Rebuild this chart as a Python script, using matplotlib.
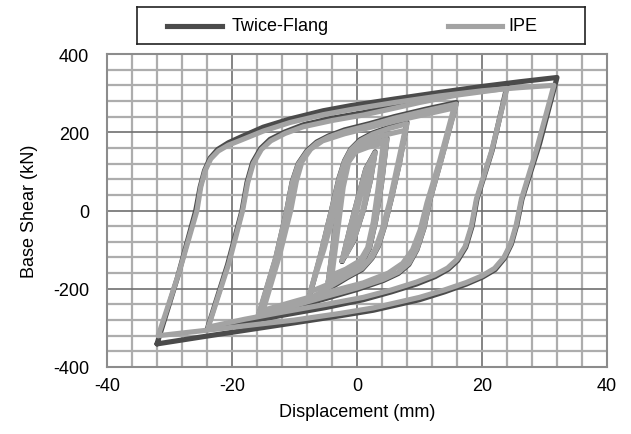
import matplotlib
matplotlib.use("Agg")
import matplotlib.pyplot as plt
from matplotlib.lines import Line2D

plt.rcParams['font.family'] = ['Liberation Sans', 'DejaVu Sans']
plt.rcParams['axes.unicode_minus'] = False

# ---- data: (displacement mm, base shear kN) per loop ----
# IPE loops, smallest to largest
ipe_2a = [(-1.8, -115), (-0.6, -40), (0.6, 40), (1.6, 98), (2.6, 138),
          (1.9, 72), (0.9, 0), (-0.4, -70), (-1.8, -115)]
ipe_2b = [(-2.4, -128), (-1.2, -50), (0.2, 35), (1.4, 105), (2.9, 148),
          (2.2, 80), (1.1, 5), (-0.6, -78), (-2.4, -128)]
ipe_4a = [(-4.0, -165), (-3.0, -40), (-2.2, 60), (-1.3, 125), (-0.2, 150), (1.8, 162), (4.2, 172),
          (3.4, 60), (2.6, -30), (1.7, -95), (0.5, -128), (-1.8, -150), (-4.0, -165)]
ipe_4b = [(-4.6, -180), (-3.5, -50), (-2.6, 55), (-1.7, 125), (-0.4, 156), (2.0, 170), (4.8, 182),
          (3.9, 65), (3.0, -25), (2.0, -95), (0.7, -133), (-2.0, -160), (-4.6, -180)]
ipe_8a = [(-7.5, -208), (-5.3, -100), (-3.6, 0), (-2.4, 80), (-1.6, 122), (-0.6, 150), (0.8, 170),
          (2.8, 185), (5.0, 195), (7.7, 205),
          (6.4, 110), (5.2, 20), (4.0, -50), (3.0, -95), (2.0, -125), (0.5, -148), (-2.0, -170),
          (-4.5, -188), (-7.5, -208)]
ipe_8b = [(-7.8, -228), (-5.8, -110), (-4.1, 0), (-2.9, 80), (-2.0, 125), (-1.0, 155), (0.5, 178),
          (2.5, 195), (5.0, 209), (8.0, 222),
          (6.8, 120), (5.5, 30), (4.3, -45), (3.4, -90), (2.4, -120), (0.8, -148), (-1.5, -168),
          (-4.5, -196), (-7.8, -228)]
ipe_16a = [(-15.0, -255), (-12.4, -115), (-10.6, 0), (-9.7, 75), (-8.8, 125), (-7.4, 157), (-5.5, 178),
           (-2.0, 196), (2.0, 212), (6.0, 228), (11.0, 246), (15.5, 262),
           (13.2, 125), (11.2, 20), (10.1, -50), (8.9, -100), (7.3, -135), (5.0, -160), (1.0, -185),
           (-4.0, -206), (-9.5, -230), (-15.0, -255)]
ipe_16b = [(-15.8, -268), (-13.0, -120), (-11.25, 0), (-10.4, 70), (-9.4, 118), (-8.0, 150), (-6.45, 172),
           (-4.5, 188), (-2.0, 202), (2.0, 218), (6.0, 236), (11.0, 255), (15.9, 272),
           (13.5, 130), (11.7, 29), (10.7, -45), (9.6, -98), (8.3, -135), (6.6, -158), (4.2, -176),
           (0.0, -198), (-5.0, -220), (-10.0, -243), (-15.8, -268)]
ipe_24 = [(-23.8, -298), (-20.5, -135), (-18.3, 0), (-17.5, 70), (-16.6, 120), (-15.3, 156),
          (-13.8, 178), (-11.5, 197), (-8.6, 214), (-4.0, 230), (1.0, 244), (5.0, 258), (10.0, 276),
          (16.0, 295), (24.0, 312),
          (21.5, 150), (19.1, 29), (18.3, -40), (17.3, -92), (16.0, -125), (14.5, -147), (12.4, -165),
          (9.5, -183), (5.5, -203), (1.0, -222), (-5.0, -240), (-12.0, -260), (-18.0, -278),
          (-23.8, -298)]
ipe_32 = [(-31.8, -320), (-28.5, -160), (-25.6, 0), (-25.0, 60), (-24.3, 102), (-23.4, 132),
          (-22.2, 152), (-20.6, 167), (-18.7, 179), (-15.0, 203), (-10.7, 225), (-5.4, 245),
          (-1.0, 258), (6.0, 276), (13.3, 293), (20.0, 306), (26.0, 314), (31.5, 320),
          (28.8, 160), (26.3, 29), (25.5, -35), (24.6, -85), (23.5, -120), (22.0, -148), (20.0, -167),
          (17.5, -184), (14.0, -203), (10.0, -222), (2.6, -249), (-2.7, -263), (-10.0, -280),
          (-17.0, -293), (-24.0, -306), (-31.8, -320)]

# Twice-Flang loops
tf_2 = [(-2.4, -130), (-1.2, -51), (0.2, 35), (1.4, 106), (2.9, 150),
        (2.2, 81), (1.1, 5), (-0.6, -80), (-2.4, -130)]
tf_4 = [(-4.6, -183), (-3.5, -52), (-2.6, 55), (-1.7, 127), (-0.4, 158), (2.0, 172), (4.8, 185),
        (3.9, 66), (3.0, -25), (2.0, -97), (0.7, -135), (-2.0, -163), (-4.6, -183)]
tf_8 = [(-7.8, -232), (-5.8, -112), (-4.1, 0), (-2.9, 82), (-2.0, 127), (-1.0, 157), (0.5, 181),
        (2.5, 198), (5.0, 212), (8.0, 226),
        (6.8, 122), (5.5, 30), (4.3, -46), (3.4, -92), (2.4, -122), (0.8, -151), (-1.5, -171),
        (-4.5, -200), (-7.8, -232)]
tf_16 = [(-15.8, -272), (-13.0, -122), (-11.25, 0), (-10.4, 72), (-9.4, 120), (-8.0, 153), (-6.45, 175),
         (-4.5, 191), (-2.0, 206), (2.0, 222), (6.0, 240), (11.0, 259), (15.9, 276),
         (13.5, 132), (11.7, 29), (10.7, -46), (9.6, -100), (8.3, -138), (6.6, -161), (4.2, -179),
         (0.0, -202), (-5.0, -225), (-10.0, -248), (-15.8, -272)]
tf_24 = [(-24.0, -305), (-20.7, -138), (-18.4, 0), (-17.6, 72), (-16.7, 123), (-15.4, 159),
         (-13.9, 182), (-11.5, 201), (-8.6, 219), (-4.0, 236), (1.0, 250), (5.0, 264), (10.0, 282),
         (16.0, 301), (24.0, 318),
         (21.6, 152), (19.2, 29), (18.4, -41), (17.4, -94), (16.1, -128), (14.6, -150), (12.5, -169),
         (9.5, -188), (5.5, -208), (1.0, -228), (-5.0, -248), (-12.0, -268), (-18.0, -286),
         (-24.0, -305)]
tf_32 = [(-32.0, -341), (-28.7, -170), (-25.8, 0), (-25.1, 60), (-24.4, 102), (-23.5, 134),
         (-22.3, 156), (-20.6, 173), (-18.7, 187), (-15.0, 213), (-10.7, 234), (-5.4, 255),
         (-1.0, 268), (6.0, 285), (13.3, 302), (20.0, 317), (26.0, 329), (32.0, 340),
         (29.2, 170), (26.4, 29), (25.6, -35), (24.7, -86), (23.6, -122), (22.1, -151), (20.1, -170),
         (17.5, -188), (14.0, -208), (10.0, -228), (2.6, -255), (-2.7, -269), (-10.0, -287),
         (-17.0, -304), (-24.0, -321), (-32.0, -341)]

tf_loops = [tf_2, tf_4, tf_8, tf_16, tf_24, tf_32]
ipe_loops = [ipe_2a, ipe_2b, ipe_4a, ipe_4b, ipe_8a, ipe_8b, ipe_16a, ipe_16b, ipe_24, ipe_32]

TF_COLOR = '#4b4b4b'
IPE_COLOR = '#a3a3a3'

fig = plt.figure(figsize=(6.31, 4.35), dpi=100)
ax = fig.add_axes([107 / 631, 1 - 368 / 435, 500 / 631, 313 / 435])

for loop in tf_loops:
    xs, ys = zip(*loop)
    ax.plot(xs, ys, color=TF_COLOR, lw=3.7, solid_joinstyle='round', solid_capstyle='round', zorder=3)
for loop in ipe_loops:
    xs, ys = zip(*loop)
    ax.plot(xs, ys, color=IPE_COLOR, lw=3.7, solid_joinstyle='round', solid_capstyle='round', zorder=4)

ax.set_xlim(-40, 40)
ax.set_ylim(-400, 400)
ax.set_xticks(range(-40, 41, 20))
ax.set_xticks(range(-40, 41, 4), minor=True)
ax.set_yticks(range(-400, 401, 200))
ax.set_yticks(range(-400, 401, 40), minor=True)
ax.set_axisbelow(True)
ax.grid(which='minor', color='#adadad', lw=1.6)
ax.grid(which='major', color='#707070', lw=1.2)
ax.tick_params(which='both', length=0)
ax.tick_params(axis='x', labelsize=13, pad=7)
ax.tick_params(axis='y', labelsize=13, pad=13)
for sp in ax.spines.values():
    sp.set_color('#8c8c8c')
    sp.set_linewidth(1.5)

ax.set_xlabel('Displacement (mm)', fontsize=13, labelpad=7)
ax.set_ylabel('Base Shear (kN)', fontsize=13, labelpad=11)

# legend box at the top
lax = fig.add_axes([137 / 631, 1 - 45 / 435, 448 / 631, 37 / 435])
lax.set_xlim(0, 1)
lax.set_ylim(0, 1)
lax.set_xticks([])
lax.set_yticks([])
for sp in lax.spines.values():
    sp.set_color('#222222')
    sp.set_linewidth(1.2)
lax.add_line(Line2D([0.067, 0.19], [0.5, 0.5], color=TF_COLOR, lw=3.7))
lax.text(0.212, 0.5, 'Twice-Flang', fontsize=13, va='center', ha='left')
lax.add_line(Line2D([0.695, 0.815], [0.5, 0.5], color=IPE_COLOR, lw=3.7))
lax.text(0.83, 0.5, 'IPE', fontsize=13, va='center', ha='left')

fig.savefig('out.png', dpi=100)
